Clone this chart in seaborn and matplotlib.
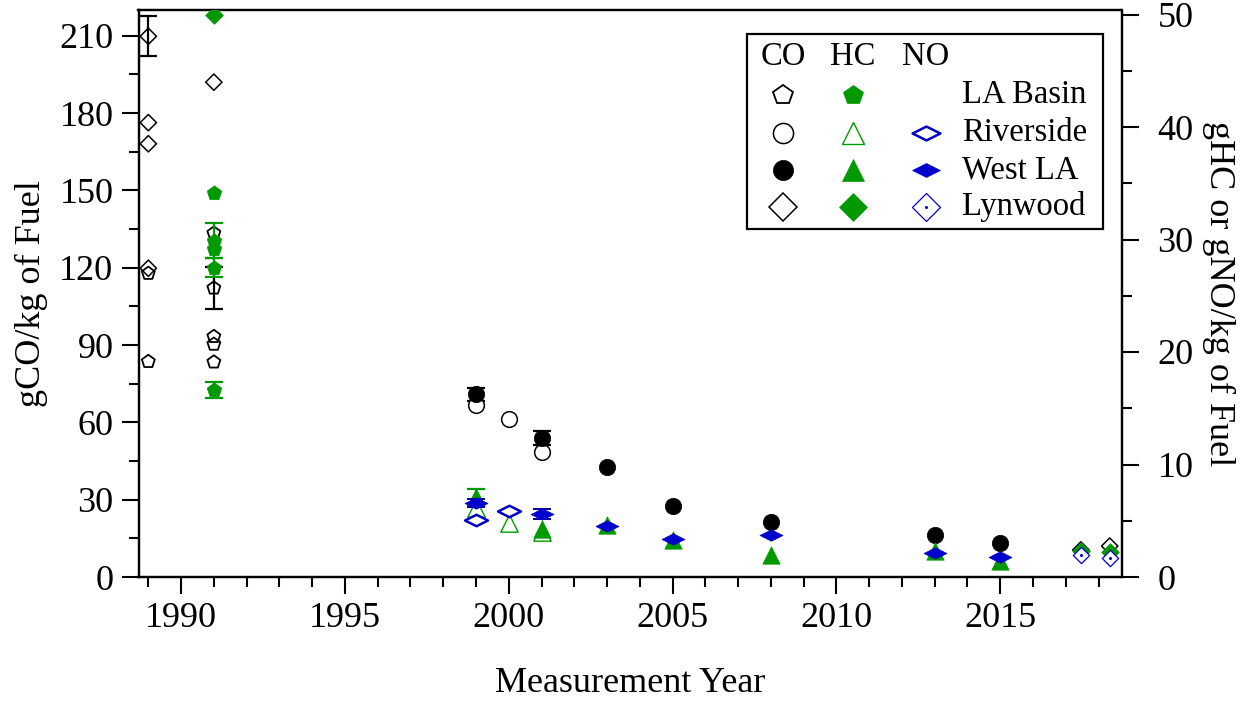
import numpy as np
import matplotlib
matplotlib.use("Agg")
import matplotlib.pyplot as plt
import seaborn as sns
from matplotlib.path import Path
from matplotlib.patches import Rectangle
from matplotlib.ticker import MultipleLocator

sns.set_style("ticks")
plt.rcParams["font.family"] = ["Liberation Serif", "DejaVu Serif"]
for k in ["text.color", "axes.labelcolor", "xtick.color", "ytick.color", "axes.edgecolor"]:
    plt.rcParams[k] = "black"

# ---------------- data ----------------
# CO (left axis, g/kg)
co_lab_years = [1989, 1989, 1991, 1991, 1991, 1991, 1991]
co_lab = [83.6, 117.8, 133.4, 112.1, 93.3, 90.3, 83.4]
co_riv_years = [1999, 2000, 2001]
co_riv = [66.7, 61.2, 48.4]
co_wla_years = [1999, 2001, 2003, 2005, 2008, 2013, 2015]
co_wla = [70.9, 53.9, 42.5, 27.4, 21.3, 16.4, 13.1]
co_lyn_years = [1989, 1989, 1989, 1989, 1991, 2017.46, 2018.34]
co_lyn = [209.8, 176.3, 168.1, 119.8, 192.0, 10.5, 12.0]
co_err_years = [1989, 1991, 1999, 2001]
co_err_vals = [209.8, 112.1, 70.9, 53.9]
co_err = [7.8, 8.2, 2.6, 2.6]

# HC (right axis, g/kg)
hc_lab_years = [1991, 1991, 1991, 1991, 1991]
hc_lab = [34.1, 29.9, 29.2, 27.5, 16.6]
hc_riv_years = [1999, 2000, 2001]
hc_riv = [6.1, 4.8, 4.0]
hc_wla_years = [1999, 2001, 2003, 2005, 2008, 2013, 2015]
hc_wla = [7.1, 4.3, 4.6, 3.3, 2.0, 2.3, 1.4]
hc_lyn_years = [1991, 2017.46, 2018.34]
hc_lyn = [50.0, 2.3, 2.2]
hc_err_years = [1991, 1991, 1991, 1999]
hc_err_vals = [29.9, 27.5, 16.6, 7.1]
hc_err = [1.55, 0.85, 0.7, 0.7]

# NO (right axis, g/kg)
no_riv_years = [1999, 2000]
no_riv = [5.1, 5.9]
no_wla_years = [1999, 2001, 2003, 2005, 2008, 2013, 2015]
no_wla = [6.6, 5.6, 4.5, 3.4, 3.7, 2.1, 1.75]
no_lyn_years = [2017.46, 2018.34]
no_lyn = [1.95, 1.65]
no_err_years = [1999, 2001]
no_err_vals = [6.6, 5.6]
no_err = [0.35, 0.45]

x_ticks = [1990, 1995, 2000, 2005, 2010, 2015]
left_ticks = [0, 30, 60, 90, 120, 150, 180, 210]
right_ticks = [0, 10, 20, 30, 40, 50]

legend_cols = ["CO", "HC", "NO"]
legend_rows = ["LA Basin", "Riverside", "West LA", "Lynwood"]

# ---------------- style ----------------
GREEN = "#009900"
BLUE = "#0000CC"
flat_diamond = Path([(-1, 0), (0, 0.5), (1, 0), (0, -0.5), (-1, 0)],
                    [Path.MOVETO, Path.LINETO, Path.LINETO, Path.LINETO, Path.CLOSEPOLY])

W, H = 1255, 702
AX_L, AX_R, AX_T, AX_B = 138.5, 1121.5, 10, 577
fig = plt.figure(figsize=(W / 100, H / 100), dpi=100)
ax = fig.add_axes([AX_L / W, 1 - AX_B / H, (AX_R - AX_L) / W, (AX_B - AX_T) / H])
ax2 = ax.twinx()

# ---------------- CO (left) ----------------
ax.errorbar(co_err_years, co_err_vals, yerr=co_err, fmt="none", ecolor="black",
            elinewidth=1.6, capsize=6.5, capthick=1.6, zorder=2)
sns.scatterplot(x=co_lab_years, y=co_lab, marker="p", s=9.8 ** 2, facecolor="none",
                edgecolor="black", linewidth=1.3, ax=ax, zorder=3)
sns.scatterplot(x=co_riv_years, y=co_riv, marker="o", s=11.3 ** 2, facecolor="white",
                edgecolor="black", linewidth=1.1, ax=ax, zorder=3)
sns.scatterplot(x=co_wla_years, y=co_wla, marker="o", s=11.8 ** 2, color="black",
                edgecolor="black", linewidth=0.5, ax=ax, zorder=3)
sns.scatterplot(x=co_lyn_years, y=co_lyn, marker="D", s=8.3 ** 2, facecolor="none",
                edgecolor="black", linewidth=1.1, ax=ax, zorder=3)

# ---------------- HC / NO (right) ----------------
ax2.errorbar(hc_err_years, hc_err_vals, yerr=hc_err, fmt="none", ecolor=GREEN,
             elinewidth=1.6, capsize=6.5, capthick=1.6, zorder=2)
sns.scatterplot(x=hc_lab_years, y=hc_lab, marker="p", s=11 ** 2, color=GREEN,
                edgecolor=GREEN, linewidth=0.5, ax=ax2, zorder=3)
sns.scatterplot(x=hc_riv_years, y=hc_riv, marker="^", s=12.5 ** 2, facecolor="white",
                edgecolor=GREEN, linewidth=1.0, ax=ax2, zorder=3)
sns.scatterplot(x=hc_wla_years, y=hc_wla, marker="^", s=12.5 ** 2, color=GREEN,
                edgecolor=GREEN, linewidth=0.5, ax=ax2, zorder=3)
sns.scatterplot(x=hc_lyn_years, y=hc_lyn, marker="D", s=9 ** 2, color=GREEN,
                edgecolor=GREEN, linewidth=0.5, ax=ax2, zorder=3)

ax2.errorbar(no_err_years, no_err_vals, yerr=no_err, fmt="none", ecolor="#000099",
             elinewidth=1.4, capsize=6.5, capthick=1.4, zorder=4)
sns.scatterplot(x=no_riv_years, y=no_riv, marker=flat_diamond, s=16.5 ** 2,
                facecolor="white", edgecolor=BLUE, linewidth=1.8, ax=ax2, zorder=4)
sns.scatterplot(x=no_wla_years, y=no_wla, marker=flat_diamond, s=16.5 ** 2, color=BLUE,
                edgecolor=BLUE, linewidth=0.5, ax=ax2, zorder=4)
sns.scatterplot(x=no_lyn_years, y=no_lyn, marker="D", s=8.3 ** 2, facecolor="white",
                edgecolor=BLUE, linewidth=0.9, ax=ax2, zorder=4)
sns.scatterplot(x=no_lyn_years, y=no_lyn, marker="o", s=2.2 ** 2, color=BLUE,
                linewidth=0, ax=ax2, zorder=5)

# ---------------- axes ----------------
FS = 26
ax.set_xlim(1988.7, 2018.7)
ax.set_ylim(0, 220)
ax2.set_ylim(0, 50.4)
ax.set_xticks(x_ticks)
ax.set_xticklabels([str(t) for t in x_ticks])
ax.xaxis.set_minor_locator(MultipleLocator(1))
ax.set_yticks(left_ticks)
ax.yaxis.set_minor_locator(MultipleLocator(15))
ax2.set_yticks(right_ticks)
ax2.yaxis.set_minor_locator(MultipleLocator(5))
for a in (ax, ax2):
    a.tick_params(which="major", direction="out", length=12, width=1.5,
                  labelsize=FS, color="black", labelcolor="black", pad=6)
    a.tick_params(which="minor", direction="out", length=7, width=1.5, color="black")
    for sp in a.spines.values():
        sp.set_linewidth(1.6)
        sp.set_color("black")
        sp.set_visible(True)
ax.tick_params(axis="x", which="both", top=False, bottom=True)
ax.tick_params(axis="y", which="both", left=True, right=False)
ax2.tick_params(axis="y", which="both", left=False, right=True)
ax2.tick_params(axis="y", which="major", pad=14)
ax.set_xlabel("Measurement Year", fontsize=FS, labelpad=23, color="black")
ax.set_ylabel("gCO/kg of Fuel", fontsize=FS, labelpad=8, color="black")
ax2.set_ylabel("gHC or gNO/kg of Fuel", fontsize=FS, rotation=270, labelpad=30,
               color="black")
ax.grid(False)
ax2.grid(False)

# ---------------- legend (drawn in axes coordinates) ----------------
def fx(px):
    return (px - AX_L) / (AX_R - AX_L)

def fy(py):
    return (AX_B - py) / (AX_B - AX_T)

tr = ax2.transAxes
ax2.add_patch(Rectangle((fx(747), fy(229)), fx(1103) - fx(747), fy(34) - fy(229),
                        transform=tr, facecolor="white", edgecolor="black",
                        linewidth=1.6, zorder=10, clip_on=False))
col_x = [783, 853, 926]
row_y = [95, 133, 170, 207]
LFS = 23.5
for name, cx in zip(legend_cols, col_x):
    ax2.text(fx(cx), fy(57), name, transform=tr, ha="center", va="center",
             fontsize=LFS, zorder=11)
for name, ry in zip(legend_rows, row_y):
    ax2.text(fx(962), fy(ry), name, transform=tr, ha="left", va="center",
             fontsize=LFS, zorder=11)

leg_markers = [
    # (col, row, marker, ms, face, edge, lw)
    (0, 0, "p", 14.5, "none", "black", 1.3),
    (1, 0, "p", 14.5, GREEN, GREEN, 0.5),
    (0, 1, "o", 14.5, "none", "black", 1.1),
    (1, 1, "^", 16, "none", GREEN, 1.0),
    (2, 1, flat_diamond, 20, "none", BLUE, 1.8),
    (0, 2, "o", 14.5, "black", "black", 0.5),
    (1, 2, "^", 16, GREEN, GREEN, 0.5),
    (2, 2, flat_diamond, 20, BLUE, BLUE, 0.5),
    (0, 3, "D", 14, "none", "black", 1.1),
    (1, 3, "D", 14, GREEN, GREEN, 0.5),
    (2, 3, "D", 14, "none", BLUE, 0.9),
]
for c, r, m, ms, fc, ec, lw in leg_markers:
    ax2.plot([fx(col_x[c])], [fy(row_y[r])], transform=tr, marker=m, ms=ms,
             mfc=fc, mec=ec, mew=lw, linestyle="none", zorder=11, clip_on=False)
ax2.plot([fx(col_x[2])], [fy(row_y[3])], transform=tr, marker="o", ms=2.2,
         mfc=BLUE, mec=BLUE, mew=0, linestyle="none", zorder=12, clip_on=False)

fig.savefig("out.png", dpi=100)
